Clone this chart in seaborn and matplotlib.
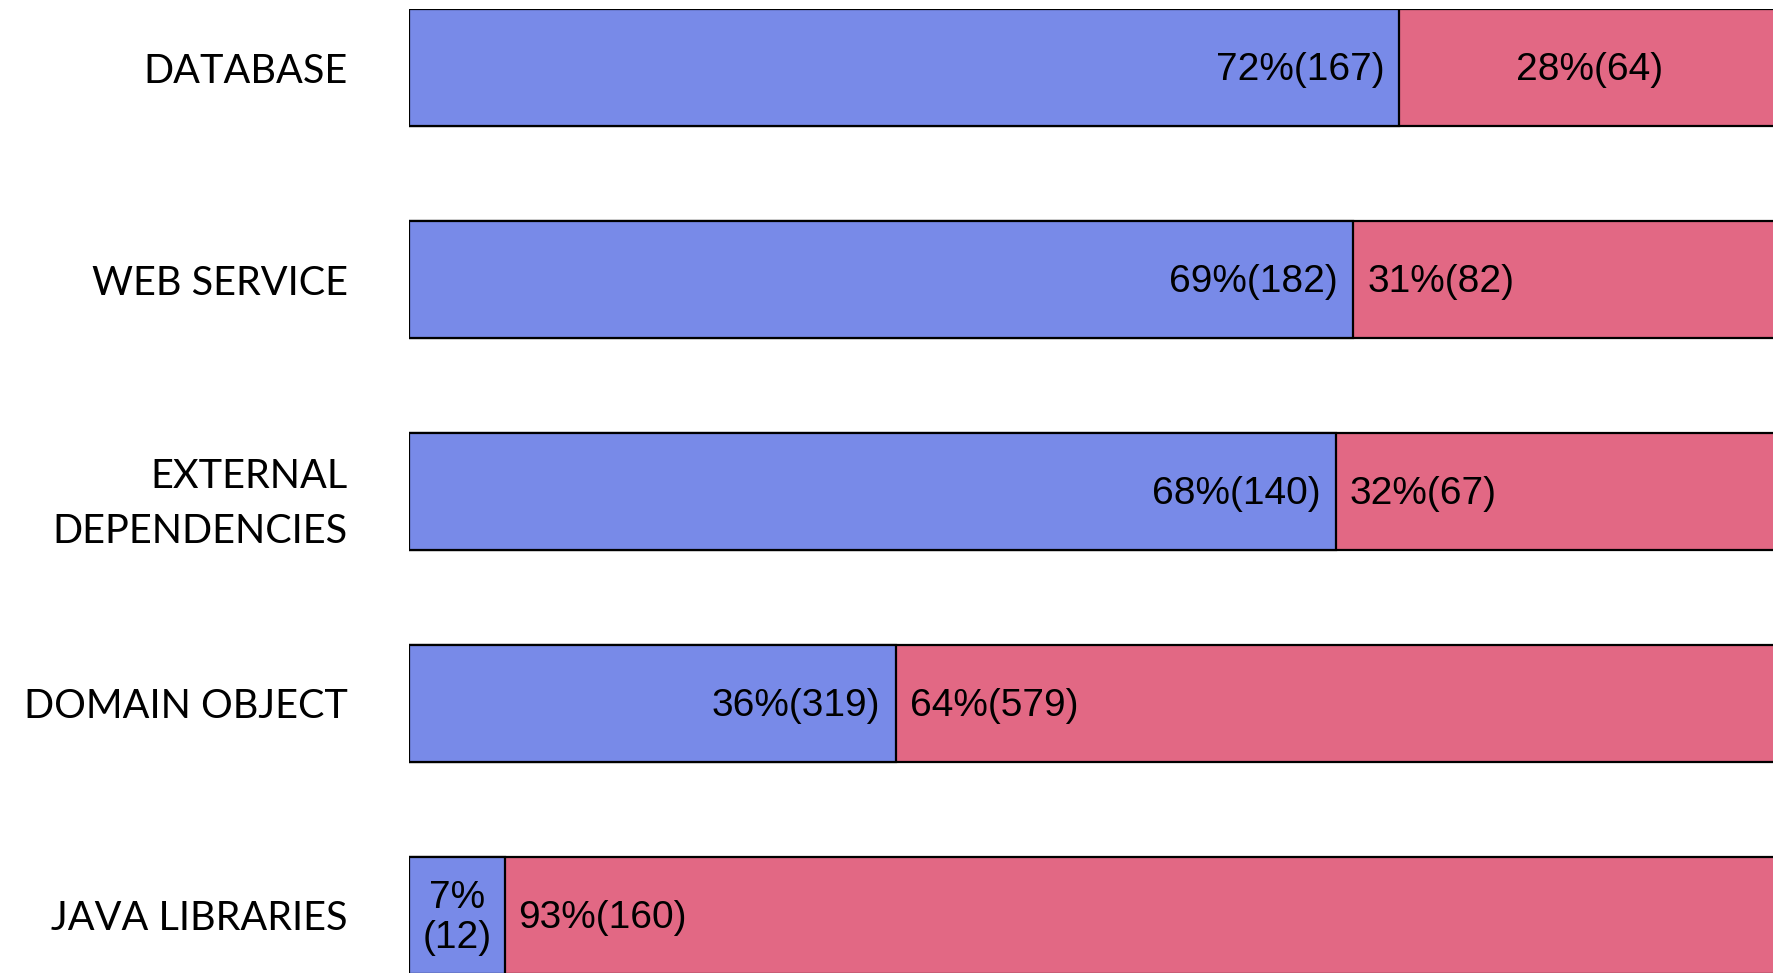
import matplotlib
matplotlib.use("Agg")
import matplotlib.pyplot as plt
import seaborn as sns
import pandas as pd

# categories and counts
categories = ["DATABASE", "WEB SERVICE", "EXTERNAL\nDEPENDENCIES", "DOMAIN OBJECT", "JAVA LIBRARIES"]
blue_counts = [167, 182, 140, 319, 12]
pink_counts = [64, 82, 67, 579, 160]

BLUE = "#788ae8"
PINK = "#e26884"

df = pd.DataFrame({"category": categories, "blue": blue_counts, "pink": pink_counts})
df["total"] = df["blue"] + df["pink"]
df["blue_share"] = df["blue"] / df["total"]
df["full"] = df["total"] / df["total"]

sns.set_style("white")
plt.rcParams["font.family"] = ["Liberation Sans", "DejaVu Sans"]
plt.rcParams["text.color"] = "black"
plt.rcParams["ytick.color"] = "black"

fig = plt.figure(figsize=(17.73, 9.73), dpi=100)
# axes run slightly past the right and bottom edges, as in the cropped original
ax = fig.add_axes([409 / 1773, 1 - 974 / 973, 1370 / 1773, 965 / 973])

bar_h = 0.552
sns.barplot(data=df, x="full", y="category", orient="h", color=PINK, width=bar_h,
            edgecolor="black", linewidth=1.6, saturation=1, ax=ax)
sns.barplot(data=df, x="blue_share", y="category", orient="h", color=BLUE, width=bar_h,
            edgecolor="black", linewidth=1.6, saturation=1, ax=ax)

for i, row in df.iterrows():
    share = row["blue_share"]
    bpct = round(share * 100)
    ppct = 100 - bpct
    # blue segment label
    if share < 0.1:
        ax.annotate(f"{bpct}%\n({row['blue']})", (share / 2, i), xytext=(0, -2),
                    textcoords="offset points", ha="center", va="center",
                    fontsize=28, linespacing=1.15)
    else:
        ax.annotate(f"{bpct}%({row['blue']})", (share, i), xytext=(-11, -2),
                    textcoords="offset points", ha="right", va="center", fontsize=28)
    # pink segment label
    if 1 - share < 0.3:
        ax.annotate(f"{ppct}%({row['pink']})", ((share + 1) / 2, i), xytext=(0, -2),
                    textcoords="offset points", ha="center", va="center", fontsize=28)
    else:
        ax.annotate(f"{ppct}%({row['pink']})", (share, i), xytext=(10, -2),
                    textcoords="offset points", ha="left", va="center", fontsize=28)

ax.set_xlim(0, 1)
ax.set_ylim(len(categories) - 1 + bar_h / 2, -bar_h / 2)
ax.set_xlabel("")
ax.set_ylabel("")
ax.set_xticks([])
ax.tick_params(axis="y", length=0, pad=44)
for lbl in ax.get_yticklabels():
    lbl.set_fontfamily(["Lato", "DejaVu Sans"])
    lbl.set_fontsize(28.5)
    lbl.set_color("black")
    lbl.set_multialignment("right")
    lbl.set_linespacing(1.6)
sns.despine(ax=ax, left=True, bottom=True)

fig.savefig("out.png", dpi=100)
